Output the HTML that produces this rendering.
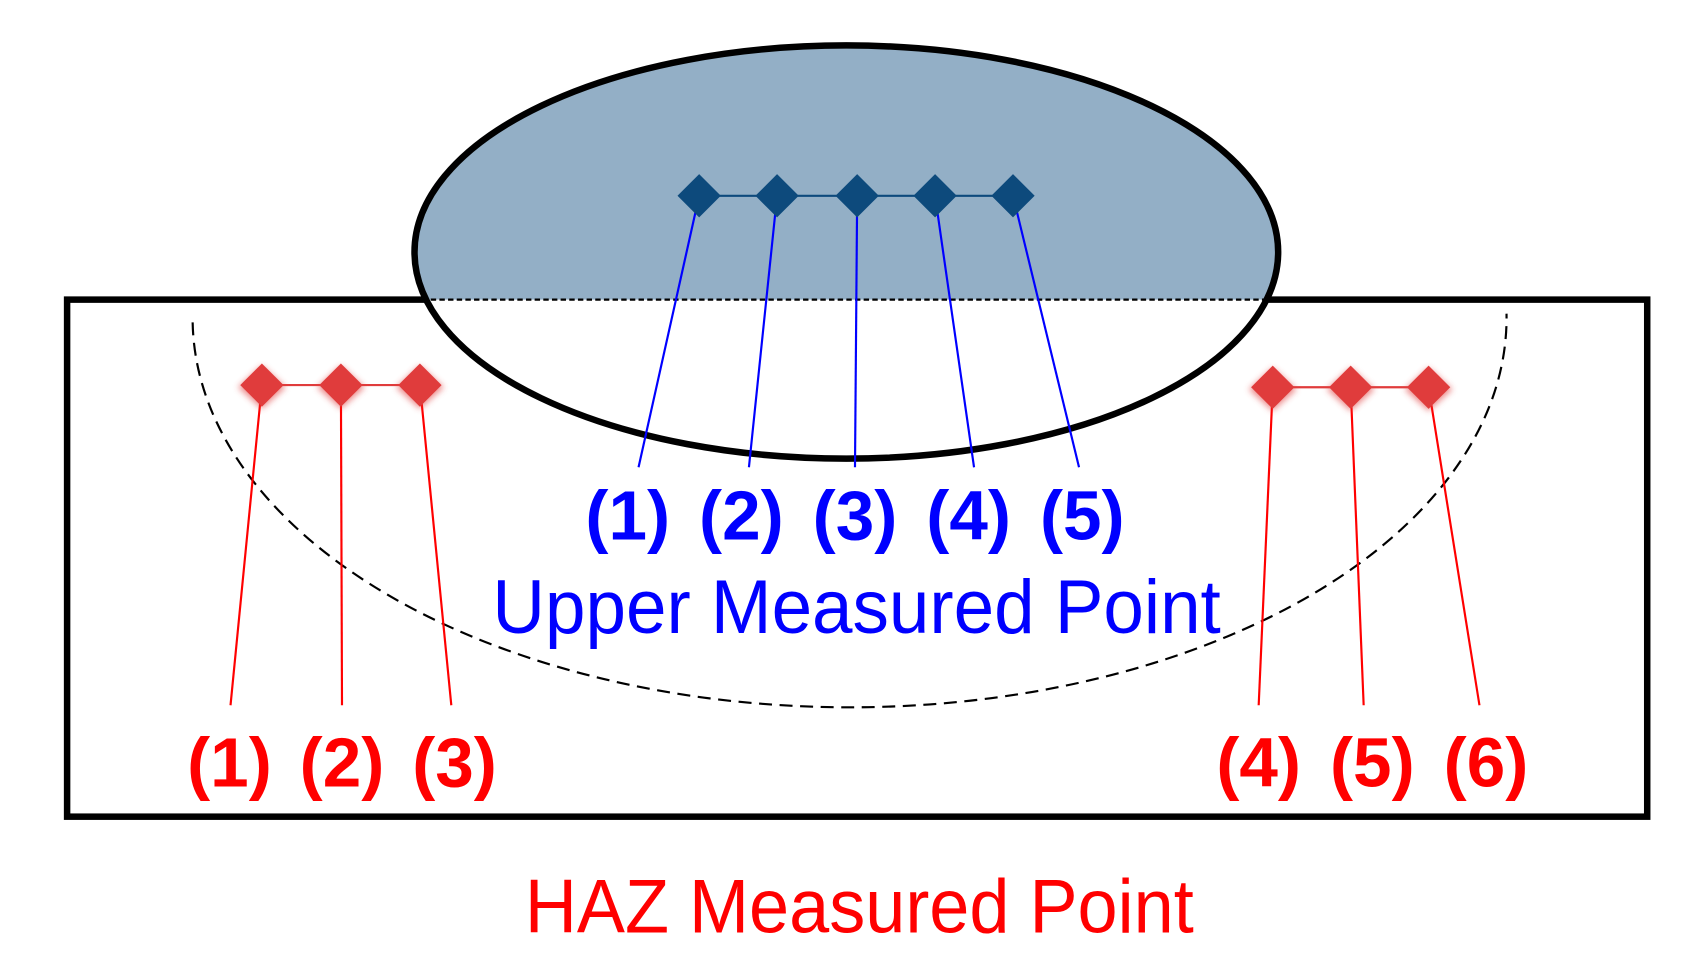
<!DOCTYPE html>
<html><head><meta charset="utf-8"><style>html,body{margin:0;padding:0;background:#fff}svg{display:block}</style></head>
<body>
<svg width="1697" height="980" viewBox="0 0 1568 906" preserveAspectRatio="none" xmlns="http://www.w3.org/2000/svg">
<defs>
<clipPath id="top"><rect x="0" y="0" width="1560" height="277"/></clipPath>
<filter id="glow" x="-1" y="-1" width="3" height="3"><feGaussianBlur stdDeviation="3"/></filter>
</defs>
<rect x="62" y="277" width="1460" height="478" fill="#fff" stroke="#000" stroke-width="6"/>
<ellipse cx="782" cy="233" rx="399" ry="191" fill="#fff"/>
<ellipse cx="782" cy="233" rx="399" ry="191" fill="#93afc6" clip-path="url(#top)"/>
<line x1="390" y1="277" x2="1175" y2="277" stroke="#000" stroke-width="2" stroke-dasharray="5,3"/>
<ellipse cx="782" cy="233" rx="399" ry="191" fill="none" stroke="#000" stroke-width="6"/>
<path d="M178,298 A607,360 0 0 0 1392,290" fill="none" stroke="#000" stroke-width="2" stroke-dasharray="12,7"/>
<line x1="646" y1="181" x2="936" y2="181" stroke="#0d4a7c" stroke-width="2"/>
<g stroke="#0000ff" stroke-width="2">
<line x1="646" y1="181" x2="590" y2="432"/><line x1="718" y1="181" x2="692" y2="432"/><line x1="792" y1="181" x2="790" y2="432"/><line x1="864" y1="181" x2="900" y2="432"/><line x1="936" y1="181" x2="997" y2="432"/>
</g>
<g fill="#0d4a7c">
<path d="M646,161 l20,20 l-20,20 l-20,-20z"/><path d="M718,161 l20,20 l-20,20 l-20,-20z"/><path d="M792,161 l20,20 l-20,20 l-20,-20z"/><path d="M864,161 l20,20 l-20,20 l-20,-20z"/><path d="M936,161 l20,20 l-20,20 l-20,-20z"/>
</g>
<g font-family="Liberation Sans, sans-serif" font-weight="bold" font-size="64" fill="#0000ff" text-anchor="middle">
<text x="580" y="499">(1)</text><text x="685" y="499">(2)</text><text x="790" y="499">(3)</text><text x="895" y="499">(4)</text><text x="1000" y="499">(5)</text>
</g>
<text x="455" y="585" font-family="Liberation Sans, sans-serif" font-size="70" fill="#0000ff" textLength="673" lengthAdjust="spacingAndGlyphs">Upper Measured Point</text>
<g stroke="#e03c3c" stroke-width="2">
<line x1="242" y1="356" x2="388" y2="356"/><line x1="1176" y1="358" x2="1320" y2="358"/>
</g>
<g stroke="#ff0000" stroke-width="2">
<line x1="242" y1="356" x2="213" y2="652"/><line x1="315" y1="356" x2="316" y2="652"/><line x1="388" y1="356" x2="417" y2="652"/>
<line x1="1176" y1="358" x2="1163" y2="652"/><line x1="1248" y1="358" x2="1260" y2="652"/><line x1="1320" y1="358" x2="1367" y2="652"/>
</g>
<g fill="#e03c3c" opacity="0.6" filter="url(#glow)">
<path d="M242,338 l22,20 l-22,20 l-22,-20z"/><path d="M315,338 l22,20 l-22,20 l-22,-20z"/><path d="M388,338 l22,20 l-22,20 l-22,-20z"/>
<path d="M1176,340 l22,20 l-22,20 l-22,-20z"/><path d="M1248,340 l22,20 l-22,20 l-22,-20z"/><path d="M1320,340 l22,20 l-22,20 l-22,-20z"/>
</g>
<g fill="#e03c3c">
<path d="M242,336 l20,20 l-20,20 l-20,-20z"/><path d="M315,336 l20,20 l-20,20 l-20,-20z"/><path d="M388,336 l20,20 l-20,20 l-20,-20z"/>
<path d="M1176,338 l20,20 l-20,20 l-20,-20z"/><path d="M1248,338 l20,20 l-20,20 l-20,-20z"/><path d="M1320,338 l20,20 l-20,20 l-20,-20z"/>
</g>
<g font-family="Liberation Sans, sans-serif" font-weight="bold" font-size="64" fill="#ff0000" text-anchor="middle">
<text x="212" y="727">(1)</text><text x="316" y="727">(2)</text><text x="420" y="727">(3)</text>
<text x="1163" y="727">(4)</text><text x="1268" y="727">(5)</text><text x="1373" y="727">(6)</text>
</g>
<text x="485" y="862" font-family="Liberation Sans, sans-serif" font-size="70" fill="#ff0000" textLength="618" lengthAdjust="spacingAndGlyphs">HAZ Measured Point</text>
</svg>
</body></html>
